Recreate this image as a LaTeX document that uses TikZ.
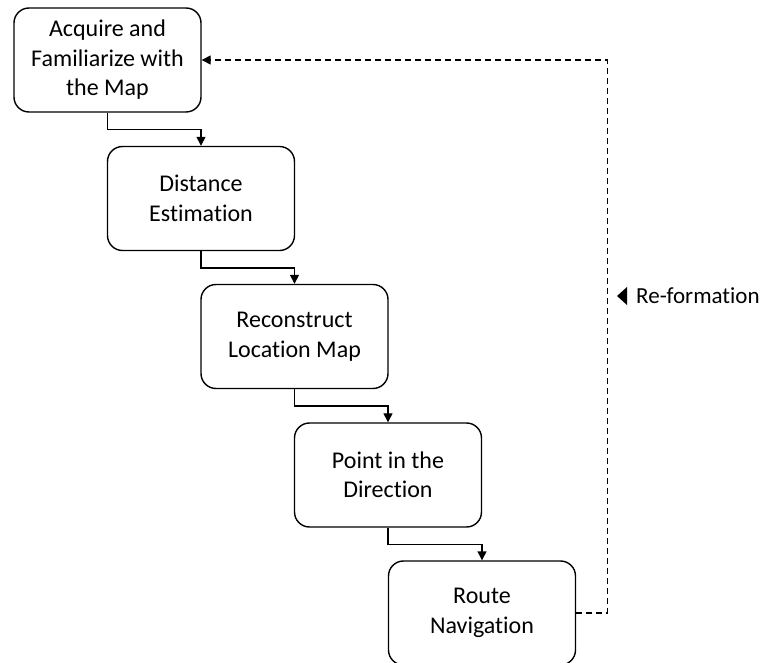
\documentclass[tikz,border=0pt]{standalone}
\usepackage{fontspec}
\setmainfont{Carlito}[Ligatures=NoCommon]
\usetikzlibrary{arrows.meta}
\begin{document}
\begin{tikzpicture}[x=1pt,y=-1pt,
  stepbox/.style={draw, line width=1.4pt, rounded corners=15pt,
    minimum width=187pt, minimum height=104pt, inner sep=0pt,
    align=center, font=\fontsize{24}{29.5}\selectfont},
  conn/.style={line width=1.4pt, -{Triangle[length=9pt,width=9pt]}},
  loopback/.style={conn, dash pattern=on 6pt off 4pt}]
\useasboundingbox (0,0) rectangle (764,663);

\node[stepbox] (acq)   at (107.5,60)  {Acquire and\\Familiarize with\\the Map};
\node[stepbox] (dist)  at (201,198.5) {Distance\\Estimation};
\node[stepbox] (recon) at (294.5,336.5) {Reconstruct\\Location Map};
\node[stepbox] (point) at (388,475)   {Point in the\\Direction};
\node[stepbox] (route) at (482,613)   {Route\\Navigation};

% elbow connectors between consecutive steps
\draw[conn] (acq.south)   -- ++(0,17) -| (dist.north);
\draw[conn] (dist.south)  -- ++(0,17) -| (recon.north);
\draw[conn] (recon.south) -- ++(0,17) -| (point.north);
\draw[conn] (point.south) -- ++(0,17) -| (route.north);

% feedback loop back to the first step
\draw[loopback] (route.east) -- ++(31,0) coordinate (turn) |- (acq.east);

\node[anchor=west, inner sep=0pt, font=\fontsize{23}{28}\selectfont] (lbl) at (636,296) {Re-formation};
\fill ([xshift=-19pt]lbl.west) -- ++(10,-9) -- ++(0,18) -- cycle;
\end{tikzpicture}
\end{document}
